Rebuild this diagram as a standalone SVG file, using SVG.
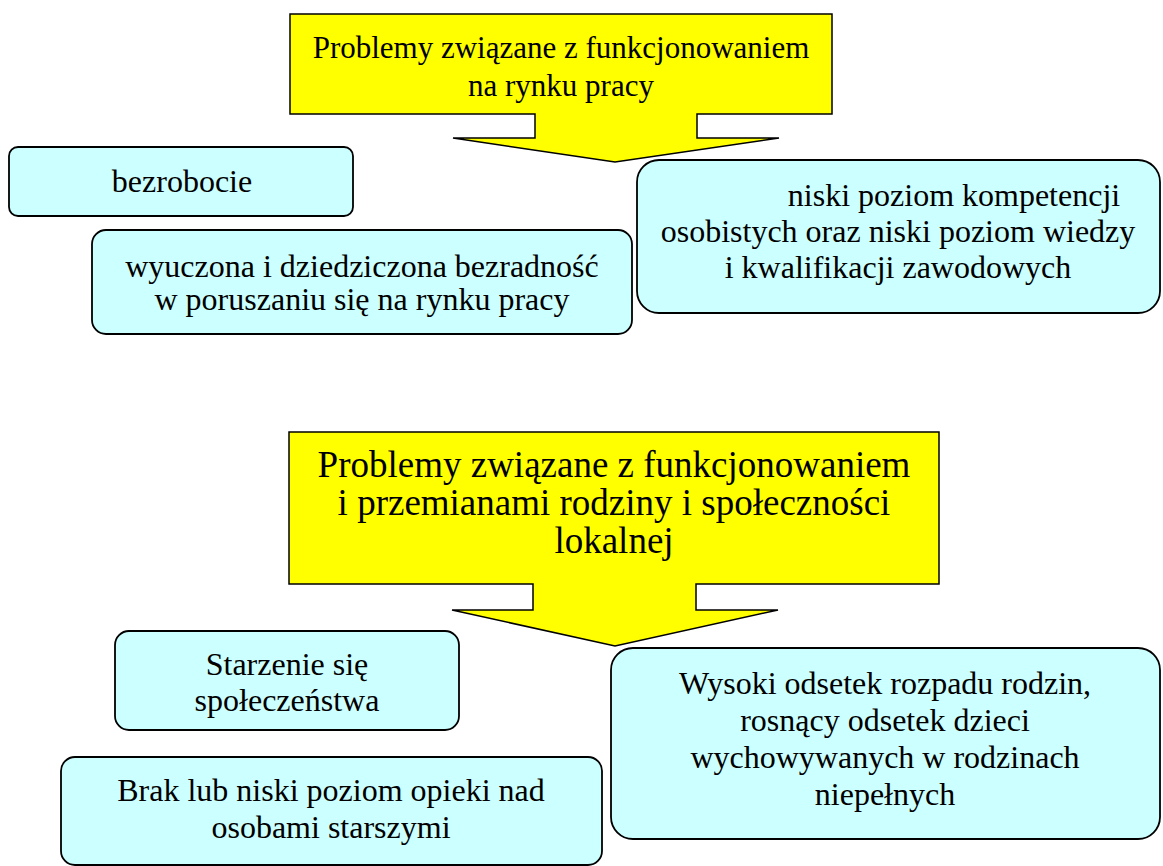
<svg xmlns="http://www.w3.org/2000/svg" width="1163" height="866" viewBox="0 0 1163 866">
<style>
  .callout { fill: #FFFF00; stroke: #000000; stroke-width: 1.5; stroke-linejoin: miter; }
  .box { fill: #CCFFFF; stroke: #000000; stroke-width: 1.8; }
  .t { font-family: "Liberation Serif", "Times New Roman", serif; fill: #000000; text-anchor: middle; }
  .big { font-size: 31px; }
  .huge { font-size: 37px; }
  .txt { font-size: 32px; }
</style>
<rect width="1163" height="866" fill="#FFFFFF"/>

<g id="callout-rynek-pracy">
  <path class="callout" d="M290,14 H832 V114 H697 V138 H779 L615,162 L453,138 H535 V114 H290 Z"/>
  <text class="t big" x="561" y="58">Problemy związane z funkcjonowaniem</text>
  <text class="t big" x="561" y="96">na rynku pracy</text>
</g>

<g id="bezrobocie">
  <rect class="box" x="9" y="147" width="344" height="69" rx="9"/>
  <text class="t txt" x="182" y="192">bezrobocie</text>
</g>

<g id="wyuczona">
  <rect class="box" x="92" y="230" width="540" height="104" rx="14"/>
  <text class="t txt" x="362" y="277">wyuczona i dziedziczona bezradność</text>
  <text class="t txt" x="362" y="310">w poruszaniu się na rynku pracy</text>
</g>

<g id="niski-poziom">
  <rect class="box" x="637" y="160" width="523" height="153" rx="22"/>
  <text class="t txt" x="954" y="206">niski poziom kompetencji</text>
  <text class="t txt" x="898" y="242">osobistych oraz niski poziom wiedzy</text>
  <text class="t txt" x="898" y="278">i kwalifikacji zawodowych</text>
</g>

<g id="callout-rodzina">
  <path class="callout" d="M289,432 H939 V584 H696 V610 H778 L615,646 L452,610 H533 V584 H289 Z"/>
  <text class="t huge" x="614" y="477">Problemy związane z funkcjonowaniem</text>
  <text class="t huge" x="614" y="515">i przemianami rodziny i społeczności</text>
  <text class="t huge" x="614" y="553">lokalnej</text>
</g>

<g id="starzenie">
  <rect class="box" x="115" y="631" width="344" height="99" rx="14"/>
  <text class="t txt" x="287" y="675">Starzenie się</text>
  <text class="t txt" x="287" y="711">społeczeństwa</text>
</g>

<g id="brak-opieki">
  <rect class="box" x="61" y="757" width="541" height="108" rx="14"/>
  <text class="t txt" x="331" y="801">Brak lub niski poziom opieki nad</text>
  <text class="t txt" x="331" y="838">osobami starszymi</text>
</g>

<g id="rozpad-rodzin">
  <rect class="box" x="611" y="648" width="549" height="191" rx="22"/>
  <text class="t txt" x="885" y="694">Wysoki odsetek rozpadu rodzin,</text>
  <text class="t txt" x="885" y="731">rosnący odsetek dzieci</text>
  <text class="t txt" x="885" y="768">wychowywanych w rodzinach</text>
  <text class="t txt" x="885" y="805">niepełnych</text>
</g>

<g id="connectors"></g>
</svg>
